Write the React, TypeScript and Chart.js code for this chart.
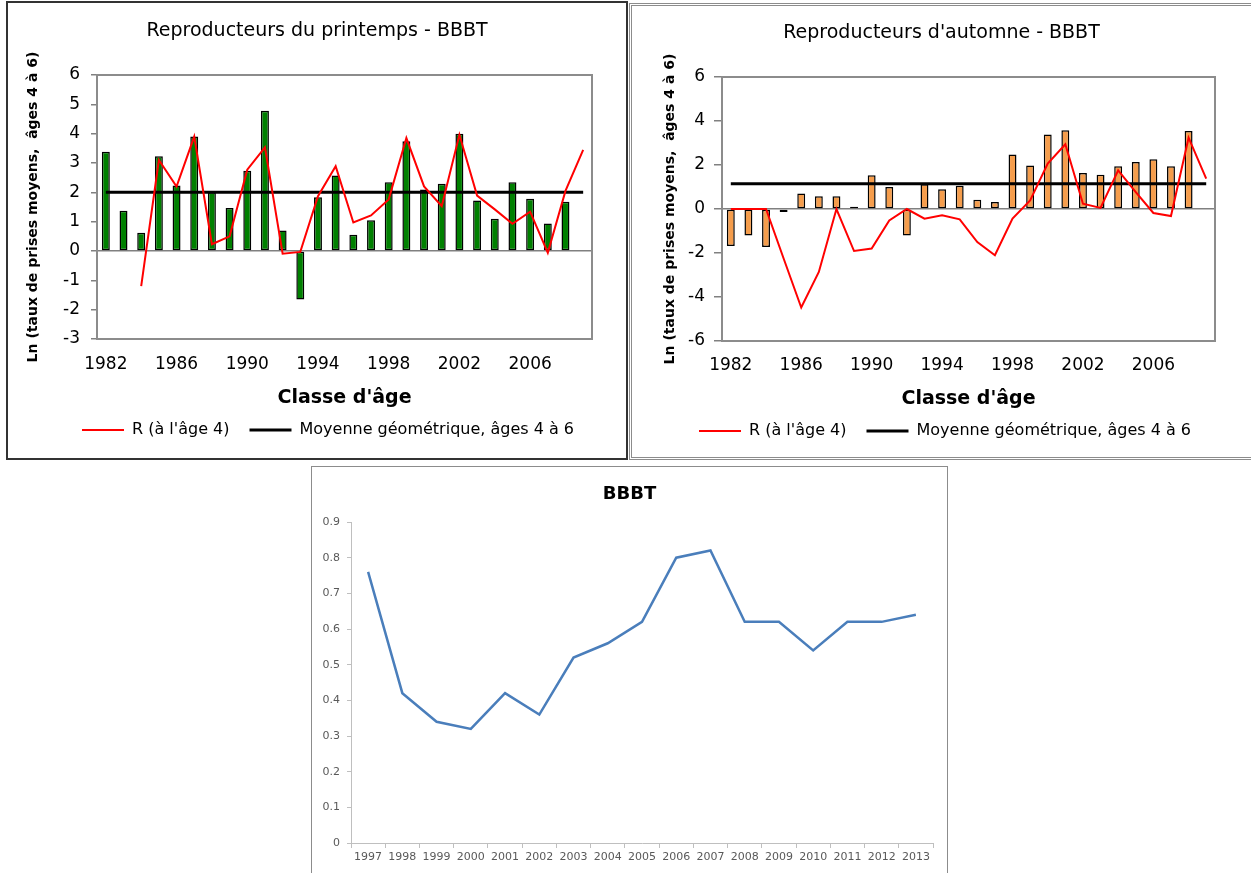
import React, { useEffect, useRef } from 'react';
import { Chart, registerables } from 'chart.js';

Chart.register(...registerables);

// ---------- data ----------
const years = [
  '1982', '1983', '1984', '1985', '1986', '1987', '1988', '1989', '1990', '1991',
  '1992', '1993', '1994', '1995', '1996', '1997', '1998', '1999', '2000', '2001',
  '2002', '2003', '2004', '2005', '2006', '2007', '2008', '2009',
];
const xTickLabels = ['1982', '1986', '1990', '1994', '1998', '2002', '2006'];

const springBars = [
  3.38, 1.37, 0.62, 3.23, 2.23, 3.9, 2.0, 1.47, 2.74, 4.78,
  0.7, -1.65, 1.83, 2.57, 0.55, 1.05, 2.34, 3.74, 2.1, 2.29,
  4.0, 1.72, 1.1, 2.34, 1.78, 0.94, 1.68,
];
const springR = [
  null, null, -1.2, 3.1, 2.2, 3.9, 0.23, 0.5, 2.77, 3.53,
  -0.09, -0.03, 1.87, 2.89, 0.97, 1.21, 1.76, 3.85, 2.2, 1.53,
  3.96, 1.89, 1.42, 0.93, 1.34, -0.06, 2.05, 3.45,
];
const springMean = 2.0;

const autumnBars = [
  -1.68, -1.2, -1.73, -0.14, 0.7, 0.58, 0.58, 0.1, 1.53, 1.0,
  -1.2, 1.12, 0.9, 1.06, 0.42, 0.32, 2.48, 1.98, 3.39, 3.58,
  1.64, 1.56, 1.94, 2.14, 2.26, 1.94, 3.55,
];
const autumnR = [
  0, 0, 0, -2.25, -4.48, -2.86, 0, -1.91, -1.8, -0.52,
  0, -0.44, -0.29, -0.47, -1.5, -2.1, -0.44, 0.39, 2.06, 2.94,
  0.24, 0.05, 1.76, 0.77, -0.18, -0.32, 3.24, 1.38,
];
const autumnMean = 1.15;

const bbbtYears = [
  '1997', '1998', '1999', '2000', '2001', '2002', '2003', '2004', '2005',
  '2006', '2007', '2008', '2009', '2010', '2011', '2012', '2013',
];
const bbbtValues = [
  0.76, 0.42, 0.34, 0.32, 0.42, 0.36, 0.52, 0.56, 0.62,
  0.8, 0.82, 0.62, 0.62, 0.54, 0.62, 0.62, 0.64,
];

const FONT = "'DejaVu Sans', sans-serif";

// ---------- plugins ----------
const plotBorder = {
  id: 'plotBorder',
  beforeDatasetsDraw(chart: any, _args: any, opts: any) {
    if (!opts || !opts.color) return;
    const { ctx, chartArea: a } = chart;
    ctx.save();
    ctx.strokeStyle = opts.color;
    ctx.lineWidth = opts.width || 1;
    ctx.strokeRect(a.left, a.top, a.right - a.left, a.bottom - a.top);
    ctx.restore();
  },
};

const legendShift = {
  id: 'legendShift',
  afterLayout(chart: any, _args: any, opts: any) {
    if (chart.legend && opts && opts.dx) {
      chart.legend.left += opts.dx;
      chart.legend.right += opts.dx;
    }
  },
};

Chart.register(plotBorder, legendShift);

type TopParams = {
  title: string;
  bars: number[];
  r: (number | null)[];
  mean: number;
  barColor: string;
  yMin: number;
  yMax: number;
  yStep: number;
  padL: number;
  padR: number;
  padB: number;
  yWidth: number;
  yTitlePad: number;
  yTickPad: number;
  yTickLen: number;
  titlePadTop: number;
  titlePadBottom: number;
  xHeight: number;
  xTickPad: number;
  xTitlePad: number;
  legendDx: number;
};

function makeTopConfig(p: TopParams): any {
  return {
    type: 'bar',
    data: {
      labels: years,
      datasets: [
        {
          type: 'line',
          label: "R (à l'âge 4)",
          data: p.r,
          borderColor: '#ff0000',
          borderWidth: 2,
          pointRadius: 0,
          tension: 0,
          order: 0,
        },
        {
          type: 'line',
          label: 'Moyenne géométrique, âges 4 à 6',
          data: [
            { x: years[0], y: p.mean },
            { x: years[years.length - 1], y: p.mean },
          ],
          borderColor: '#000000',
          borderWidth: 3,
          pointRadius: 0,
          order: 1,
        },
        {
          type: 'bar',
          label: 'Ln',
          data: p.bars,
          backgroundColor: p.barColor,
          borderColor: '#000000',
          borderWidth: 1.5,
          borderSkipped: false,
          barPercentage: 0.5,
          categoryPercentage: 0.9,
          order: 2,
        },
      ],
    },
    options: {
      responsive: false,
      animation: false,
      layout: { padding: { left: p.padL, right: p.padR, top: 0, bottom: p.padB } },
      scales: {
        x: {
          type: 'category',
          offset: true,
          grid: { display: false, drawTicks: false },
          border: { display: false },
          ticks: {
            autoSkip: false,
            maxRotation: 0,
            minRotation: 0,
            padding: p.xTickPad,
            color: '#000',
            font: { family: FONT, size: 17 },
            callback: (_v: any, i: number) => (xTickLabels.includes(years[i]) ? years[i] : ''),
          },
          title: {
            display: true,
            text: "Classe d'âge",
            color: '#000',
            font: { family: FONT, size: 19, weight: 'bold' },
            padding: { top: 0, bottom: p.xTitlePad },
          },
          afterFit: (s: any) => {
            s.height = p.xHeight;
          },
        },
        y: {
          min: p.yMin,
          max: p.yMax,
          ticks: {
            stepSize: p.yStep,
            color: '#000',
            font: { family: FONT, size: 17 },
            padding: p.yTickPad,
          },
          grid: {
            color: (c: any) => (c.tick && c.tick.value === 0 ? '#808080' : 'rgba(0,0,0,0)'),
            tickColor: '#808080',
            tickLength: p.yTickLen,
            lineWidth: 1.5,
            drawTicks: true,
          },
          border: { display: false },
          title: {
            display: true,
            text: 'Ln (taux de prises moyens,  âges 4 à 6)',
            color: '#000',
            font: { family: FONT, size: 14, weight: 'bold' },
            padding: { top: p.yTitlePad, bottom: 0 },
          },
          afterFit: (s: any) => {
            s.width = p.yWidth;
          },
        },
      },
      plugins: {
        legend: {
          position: 'bottom',
          labels: {
            usePointStyle: true,
            pointStyle: 'line',
            pointStyleWidth: 42,
            padding: 20,
            color: '#000',
            font: { family: FONT, size: 16 },
            filter: (item: any) => item.datasetIndex !== 2,
          },
        },
        title: {
          display: true,
          text: p.title,
          color: '#000',
          font: { family: FONT, size: 19, weight: 'normal' },
          padding: { top: p.titlePadTop, bottom: p.titlePadBottom },
        },
        tooltip: { enabled: false },
        plotBorder: { color: '#8c8c8c', width: 2 },
        legendShift: { dx: p.legendDx },
      },
    },
  };
}

function makeBottomConfig(): any {
  return {
    type: 'line',
    data: {
      labels: bbbtYears,
      datasets: [
        {
          label: 'BBBT',
          data: bbbtValues,
          borderColor: '#4a7ebb',
          borderWidth: 2.5,
          pointRadius: 0,
          tension: 0,
          yAxisID: 'y',
        },
      ],
    },
    options: {
      responsive: false,
      animation: false,
      layout: { padding: { left: 0, right: 0, top: 0, bottom: 0 } },
      scales: {
        x: {
          offset: true,
          grid: { offset: true, drawOnChartArea: false, color: '#bfbfbf', tickLength: 5 },
          border: { color: '#bfbfbf' },
          ticks: {
            color: '#595959',
            font: { family: FONT, size: 11 },
            padding: 3,
            autoSkip: false,
            maxRotation: 0,
          },
          afterFit: (s: any) => {
            s.height = 30;
          },
        },
        y: {
          position: 'left',
          min: 0,
          max: 0.9,
          ticks: {
            stepSize: 0.1,
            color: '#595959',
            font: { family: FONT, size: 11 },
            padding: 7,
            callback: (v: any) => String(Math.round(Number(v) * 10) / 10),
          },
          grid: { drawOnChartArea: false, color: '#bfbfbf', tickLength: 4 },
          border: { color: '#bfbfbf' },
          afterFit: (s: any) => {
            s.width = 39;
          },
        },
        ySpacer: {
          position: 'right',
          min: 0,
          max: 0.9,
          grid: { display: false, drawTicks: false },
          border: { display: false },
          ticks: { display: false },
          afterFit: (s: any) => {
            s.width = 14;
          },
        },
      },
      plugins: {
        legend: { display: false },
        title: {
          display: true,
          text: 'BBBT',
          color: '#000',
          font: { family: FONT, size: 18, weight: 'bold' },
          padding: { top: 16.2, bottom: 17.2 },
        },
        tooltip: { enabled: false },
      },
    },
  };
}

function ChartBox(props: { style: React.CSSProperties; width: number; height: number; make: () => any }) {
  const ref = useRef<HTMLCanvasElement>(null);
  useEffect(() => {
    const chart = new Chart(ref.current as HTMLCanvasElement, props.make());
    return () => chart.destroy();
  }, []);
  return (
    <div style={{ position: 'absolute', boxSizing: 'border-box', background: '#fff', ...props.style }}>
      <canvas
        ref={ref}
        width={props.width}
        height={props.height}
        style={{ display: 'block', width: props.width, height: props.height }}
      />
    </div>
  );
}

export default function App() {
  return (
    <div
      style={{
        position: 'absolute',
        left: 0,
        top: 0,
        width: 1251,
        height: 873,
        overflow: 'hidden',
        background: '#fff',
      }}
    >
      <ChartBox
        style={{ left: 6, top: 1, width: 622, height: 459, border: '2px solid #333' }}
        width={618}
        height={455}
        make={() =>
          makeTopConfig({
            title: 'Reproducteurs du printemps - BBBT',
            bars: springBars,
            r: springR,
            mean: springMean,
            barColor: '#008000',
            yMin: -3,
            yMax: 6,
            yStep: 1,
            padL: 34,
            padR: 34,
            padB: 10,
            yWidth: 55,
            yTitlePad: -17.4,
            yTickPad: 11,
            yTickLen: 6,
            titlePadTop: 16.6,
            titlePadBottom: 32.6,
            xHeight: 63,
            xTickPad: 15.5,
            xTitlePad: -7.4,
            legendDx: 11,
          })
        }
      />
      <ChartBox
        style={{ left: 629, top: 3, width: 626, height: 457, border: '3px double #8c8c8c' }}
        width={619}
        height={451}
        make={() =>
          makeTopConfig({
            title: "Reproducteurs d'automne - BBBT",
            bars: autumnBars,
            r: autumnR,
            mean: autumnMean,
            barColor: '#f59d4c',
            yMin: -6,
            yMax: 6,
            yStep: 2,
            padL: 36,
            padR: 36,
            padB: 8,
            yWidth: 54,
            yTitlePad: -6.4,
            yTickPad: 9,
            yTickLen: 8,
            titlePadTop: 15.6,
            titlePadBottom: 32.6,
            xHeight: 62,
            xTickPad: 14.5,
            xTitlePad: -7.4,
            legendDx: 3.5,
          })
        }
      />
      <ChartBox
        style={{ left: 311, top: 466, width: 637, height: 408, border: '1px solid #8c8c8c', borderBottom: 'none' }}
        width={635}
        height={406}
        make={makeBottomConfig}
      />
    </div>
  );
}
